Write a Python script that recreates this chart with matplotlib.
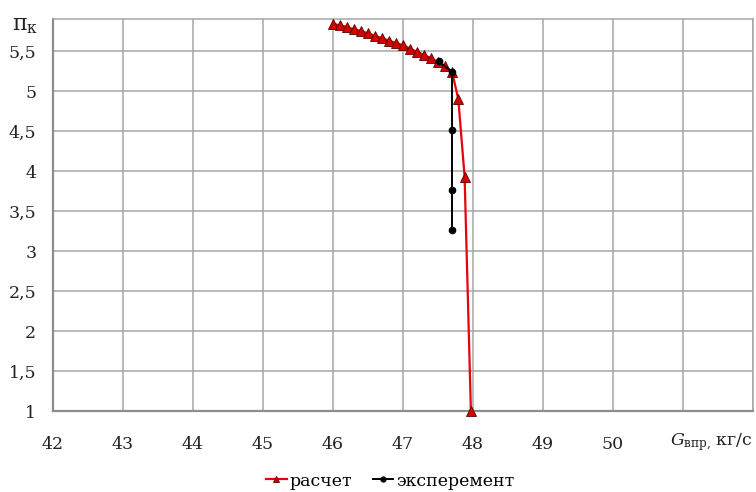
import matplotlib
matplotlib.use("Agg")
import matplotlib.pyplot as plt
from matplotlib.lines import Line2D

# Расчетная характеристика компрессора
calc_g = [46.0, 46.1, 46.2, 46.3, 46.4, 46.5, 46.6, 46.7, 46.8, 46.9,
          47.0, 47.1, 47.2, 47.3, 47.4, 47.5, 47.6, 47.7, 47.79, 47.88, 47.97]
calc_pi = [5.84, 5.82, 5.80, 5.77, 5.75, 5.72, 5.69, 5.66, 5.63, 5.60,
           5.57, 5.53, 5.49, 5.45, 5.41, 5.36, 5.31, 5.24, 4.90, 3.93, 1.00]

# Экспериментальные точки
exp_g = [47.51, 47.70, 47.70, 47.70, 47.70]
exp_pi = [5.37, 5.24, 4.51, 3.76, 3.26]

x_ticks = [42, 43, 44, 45, 46, 47, 48, 49, 50, 51, 52]
x_labels = ["42", "43", "44", "45", "46", "47", "48", "49", "50", "", ""]
y_ticks = [1, 1.5, 2, 2.5, 3, 3.5, 4, 4.5, 5, 5.5]
y_labels = ["1", "1,5", "2", "2,5", "3", "3,5", "4", "4,5", "5", "5,5"]

plt.rcParams["font.family"] = ["DejaVu Serif"]
plt.rcParams["mathtext.fontset"] = "custom"
plt.rcParams["mathtext.rm"] = "DejaVu Serif"
plt.rcParams["mathtext.it"] = "DejaVu Serif:italic"

fig = plt.figure(figsize=(7.56, 4.92), dpi=100)
ax = fig.add_axes([53 / 756, 1 - 411 / 492, 700 / 756, (411 - 19) / 492])

grid_c = "#a6a6a6"
ax.set_xlim(42, 52)
ax.set_ylim(1, 5.9)
ax.set_xticks(x_ticks)
ax.set_xticklabels(x_labels)
ax.set_yticks(y_ticks)
ax.set_yticklabels(y_labels)
ax.grid(True, color=grid_c, linewidth=1.1)
ax.set_axisbelow(True)
ax.tick_params(length=0, labelsize=12.5, colors="#222222")
ax.tick_params(axis="x", pad=18)
ax.tick_params(axis="y", pad=12)
for side in ["top", "right"]:
    ax.spines[side].set_color(grid_c)
    ax.spines[side].set_linewidth(1.1)
for side in ["left", "bottom"]:
    ax.spines[side].set_color("#8c8c8c")
    ax.spines[side].set_linewidth(1.6)

ax.plot(calc_g, calc_pi, color="#e8000b", linewidth=1.6, marker="^",
        markersize=6.5, markerfacecolor="#d40000", markeredgecolor="#5a0000",
        markeredgewidth=0.6, zorder=3, clip_on=False)
ax.plot(exp_g, exp_pi, color="black", linewidth=1.4, marker="o",
        markersize=4.5, zorder=4, clip_on=False)

fig.text(25 / 756, 1 - 25 / 492, "π$_{\\mathrm{к}}$", fontsize=16,
         ha="center", va="center", color="#222222")
fig.text(711 / 756, 1 - 442 / 492, "$G_{\\mathrm{впр,}}\\,$кг/с", fontsize=12.5,
         ha="center", va="center", color="#222222")

handles = [
    Line2D([], [], color="#e8000b", linewidth=1.6, marker="^", markersize=5,
           markerfacecolor="#d40000", markeredgecolor="#5a0000", markeredgewidth=0.6),
    Line2D([], [], color="black", linewidth=1.4, marker="o", markersize=3.5),
]
fig.legend(handles, ["расчет", "эксперемент"], loc="center",
           bbox_to_anchor=(390 / 756, 1 - 481 / 492), ncol=2, frameon=False,
           fontsize=12.5, handlelength=1.2, handletextpad=0.15, columnspacing=1.2)

fig.savefig("out.png", dpi=100)
